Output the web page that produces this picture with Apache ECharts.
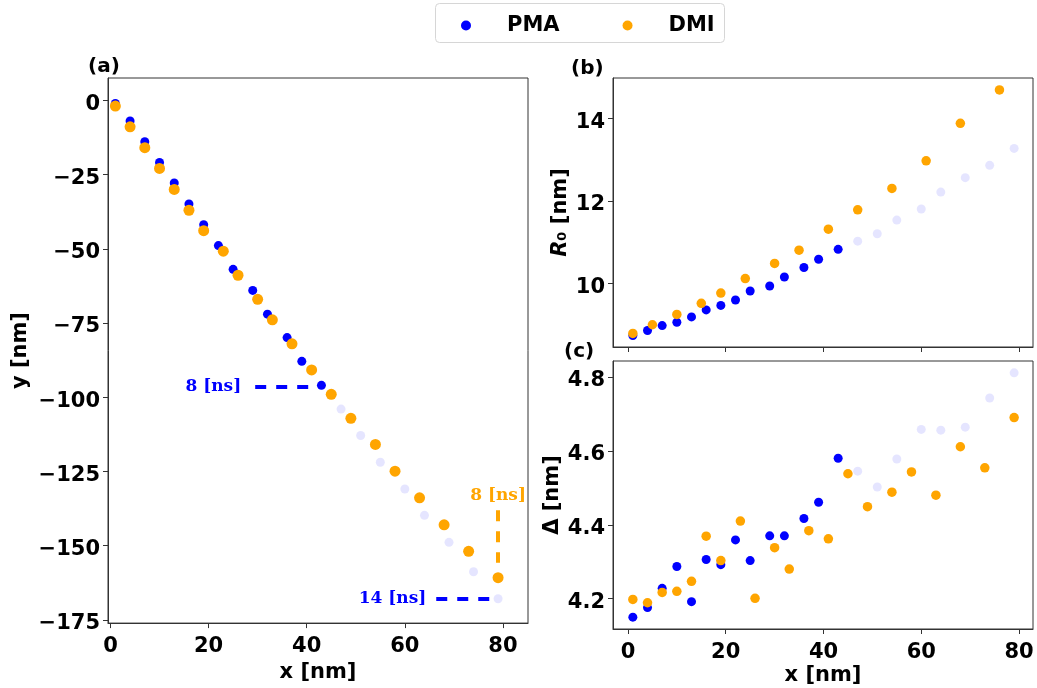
<!DOCTYPE html>
<html lang="en" style="height: 100%">
<head>
<meta charset="utf-8">
<title>PMA vs DMI</title>
</head>
<body style="height: 100%; margin: 0; background: #fff">
<div id="container" style="width: 1037px; height: 688px"></div>

<script type="text/javascript" src="https://cdn.jsdelivr.net/npm/echarts/dist/echarts.min.js"></script>

<script type="text/javascript">

var dom = document.getElementById('container');
var myChart = echarts.init(dom);

// x positions [nm]
var pmaX = [1, 4, 7, 10, 13, 16, 19, 22, 25, 29, 32, 36, 39, 43];
var pmaFadeX = [47, 51, 55, 60, 64, 69, 74, 79];
var dmiX = [1, 4, 7, 10, 13, 16, 19, 23, 26, 30, 33, 37, 41, 45, 49, 54, 58, 63, 68, 73, 79];
var dmiRX = [1, 5, 10, 15, 19, 24, 30, 35, 41, 47, 54, 61, 68, 76];

// (a) y [nm]
var pmaY = [-1.0, -6.9, -13.9, -20.9, -27.8, -34.9, -41.9, -48.9, -56.9, -64.0, -72.0, -79.9, -87.9, -96];
var pmaFadeY = [-104, -112.9, -121.9, -130.9, -139.8, -148.9, -158.8, -167.9];
var dmiY = [-1.9, -8.9, -15.9, -22.9, -30.0, -37.0, -43.9, -50.8, -58.9, -67.0, -73.9, -82.0, -90.8,
    -99.0, -107.1, -115.9, -124.9, -133.9, -143.0, -151.9, -160.8];

// (b) R0 [nm]
var pmaR = [8.73, 8.85, 8.97, 9.05, 9.18, 9.35, 9.46, 9.59, 9.81, 9.93, 10.15, 10.38, 10.58, 10.82];
var pmaFadeR = [11.02, 11.20, 11.53, 11.80, 12.21, 12.56, 12.86, 13.27];
var dmiR = [8.78, 8.99, 9.24, 9.51, 9.76, 10.11, 10.48, 10.80, 11.31, 11.78, 12.30, 12.97, 13.88, 14.69];

// (c) Delta [nm]
var pmaD = [4.150, 4.176, 4.228, 4.287, 4.192, 4.306, 4.292, 4.359, 4.303, 4.370, 4.370, 4.417, 4.461, 4.580];
var pmaFadeD = [4.545, 4.502, 4.578, 4.658, 4.656, 4.664, 4.743, 4.811];
var dmiD = [4.198, 4.189, 4.217, 4.220, 4.247, 4.369, 4.303, 4.410, 4.201, 4.338, 4.280, 4.384, 4.362,
    4.538, 4.449, 4.488, 4.543, 4.480, 4.611, 4.554, 4.690];

// tick labels
var xTicks = [0, 20, 40, 60, 80];
var yTicksA = [-175, -150, -125, -100, -75, -50, -25, 0];
var yTicksB = [10, 12, 14];
var yTicksC = [4.2, 4.4, 4.6, 4.8];

var BLUE = '#0000ff';
var ORANGE = '#ffa500';
var FADE = 'rgba(0,0,255,0.1)';
var FONT = 'DejaVu Sans';

function zip(xs, ys) {
    return xs.map(function (x, i) { return [x, ys[i]]; });
}

function fmt(v) {
    return v < 0 ? '\u2212' + Math.abs(v) : String(v);
}

var labelStyle = { color: '#000', fontFamily: FONT, fontWeight: 'bold', fontSize: 21 };
var nameStyle = { color: '#000', fontFamily: FONT, fontWeight: 'bold', fontSize: 21 };

function xAxis(grid, min, max, showLabels) {
    return {
        type: 'value', gridIndex: grid, min: min, max: max,
        name: showLabels ? 'x [nm]' : '', nameLocation: 'middle', nameGap: 36,
        nameTextStyle: nameStyle,
        splitLine: { show: false },
        axisLine: { show: true, onZero: false, lineStyle: { color: '#333', width: 1 } },
        axisTick: { show: true, length: 5, customValues: xTicks, lineStyle: { color: '#333' } },
        axisLabel: { show: showLabels, customValues: xTicks, margin: 13, formatter: fmt, ...labelStyle }
    };
}

function yAxis(grid, min, max, ticks, name, gap) {
    return {
        type: 'value', gridIndex: grid, min: min, max: max,
        name: name, nameLocation: 'middle', nameGap: gap, nameRotate: 90,
        nameTextStyle: Object.assign({}, nameStyle, { rich: { i: { fontStyle: 'italic', fontFamily: FONT, fontWeight: 'bold', fontSize: 21 } } }),
        splitLine: { show: false },
        axisLine: { show: true, onZero: false, lineStyle: { color: '#333', width: 1 } },
        axisTick: { show: true, length: 5, customValues: ticks, lineStyle: { color: '#333' } },
        axisLabel: {
            customValues: ticks, margin: 8,
            formatter: function (v) { return '{v|' + fmt(v) + '}'; },
            rich: { v: Object.assign({ padding: [8, 0, 0, 0] }, labelStyle) },
            ...labelStyle
        }
    };
}

function scatter(name, grid, data, color, size, z) {
    return {
        name: name, type: 'scatter', xAxisIndex: grid, yAxisIndex: grid,
        data: data, symbolSize: size, z: z,
        itemStyle: { color: color, opacity: 1 },
        emphasis: { disabled: true }
    };
}

var annoText = { fontFamily: 'DejaVu Serif', fontWeight: 'bold', fontSize: 17 };

var pmaA = scatter('PMA', 0, zip(pmaX, pmaY), BLUE, 9, 2);
pmaA.markLine = {
    silent: true, symbol: ['none', 'none'], label: { show: false },
    lineStyle: { color: BLUE, width: 4, type: [11, 10] },
    data: [
        [{ coord: [29.5, pmaY[13] - 0.3] }, { coord: [40.6, pmaY[13] - 0.3] }],
        [{ coord: [66.4, pmaFadeY[7]] }, { coord: [77.6, pmaFadeY[7]] }]
    ]
};
pmaA.markPoint = {
    silent: true, symbol: 'circle', symbolSize: 0,
    label: { show: true, position: 'left', color: BLUE, ...annoText },
    data: [
        { coord: [29.5, pmaY[13] - 0.3], value: '8 [ns]', label: { distance: 14, formatter: '8 [ns]' } },
        { coord: [66.4, pmaFadeY[7]], value: '14 [ns]', label: { distance: 10, formatter: '14 [ns]' } }
    ]
};

var dmiA = scatter('DMI', 0, zip(dmiX, dmiY), ORANGE, 11, 3);
dmiA.markLine = {
    silent: true, symbol: ['none', 'none'], label: { show: false },
    lineStyle: { color: ORANGE, width: 4, type: [11, 10] },
    data: [
        [{ coord: [79, -138.1] }, { coord: [79, -155.8] }]
    ]
};
dmiA.markPoint = {
    silent: true, symbol: 'circle', symbolSize: 0,
    label: { show: true, position: 'top', distance: 6, color: ORANGE, formatter: '8 [ns]', ...annoText },
    data: [{ coord: [79, -138.1] }]
};

option = {
    animation: false,
    backgroundColor: '#fff',
    legend: {
        data: ['PMA', 'DMI'],
        left: 456, top: 10,
        icon: 'circle',
        itemWidth: 72, itemHeight: 10, itemGap: 63,
        textStyle: { color: '#000', fontFamily: FONT, fontWeight: 'bold', fontSize: 21 },
        selectedMode: false,
        z: 5
    },
    graphic: [
        { type: 'rect', z: 1, shape: { x: 435.5, y: 3.5, width: 289, height: 39, r: 4 },
          style: { fill: '#fff', stroke: '#d6d6d6', lineWidth: 1 } },
        { type: 'text', left: 88, top: 57, style: { text: '(a)', font: 'bold 20px "DejaVu Sans"', fill: '#000' } },
        { type: 'text', left: 571, top: 59, style: { text: '(b)', font: 'bold 20px "DejaVu Sans"', fill: '#000' } },
        { type: 'text', left: 564, top: 342, style: { text: '(c)', font: 'bold 20px "DejaVu Sans"', fill: '#000' } }
    ],
    grid: [
        { left: 108, top: 78, width: 420, height: 551, show: true, borderColor: '#333', borderWidth: 1 },
        { left: 613, top: 78, width: 420, height: 269, show: true, borderColor: '#333', borderWidth: 1 },
        { left: 613, top: 361, width: 420, height: 268, show: true, borderColor: '#333', borderWidth: 1 }
    ],
    xAxis: [
        xAxis(0, -0.5, 85.1, true),
        xAxis(1, -3.06, 82.86, false),
        xAxis(2, -3.06, 82.86, true)
    ],
    yAxis: [
        yAxis(0, -176.1, 7.56, yTicksA, 'y [nm]', 77),
        yAxis(1, 8.45, 14.98, yTicksB, '{i|R}\u2080 [nm]', 42),
        yAxis(2, 4.118, 4.843, yTicksC, '\u0394 [nm]', 50)
    ],
    series: [
        pmaA,
        scatter('PMA ', 0, zip(pmaFadeX, pmaFadeY), FADE, 9, 1),
        dmiA,
        scatter('PMA', 1, zip(pmaX, pmaR), BLUE, 9, 2),
        scatter('PMA ', 1, zip(pmaFadeX, pmaFadeR), FADE, 9, 1),
        scatter('DMI', 1, zip(dmiRX, dmiR), ORANGE, 9.5, 3),
        scatter('PMA', 2, zip(pmaX, pmaD), BLUE, 9, 2),
        scatter('PMA ', 2, zip(pmaFadeX, pmaFadeD), FADE, 9, 1),
        scatter('DMI', 2, zip(dmiX, dmiD), ORANGE, 9.5, 3)
    ]
};

if (option && typeof option === 'object') {
    myChart.setOption(option);
}

window.addEventListener('resize', myChart.resize);
</script>
</body>
</html>
